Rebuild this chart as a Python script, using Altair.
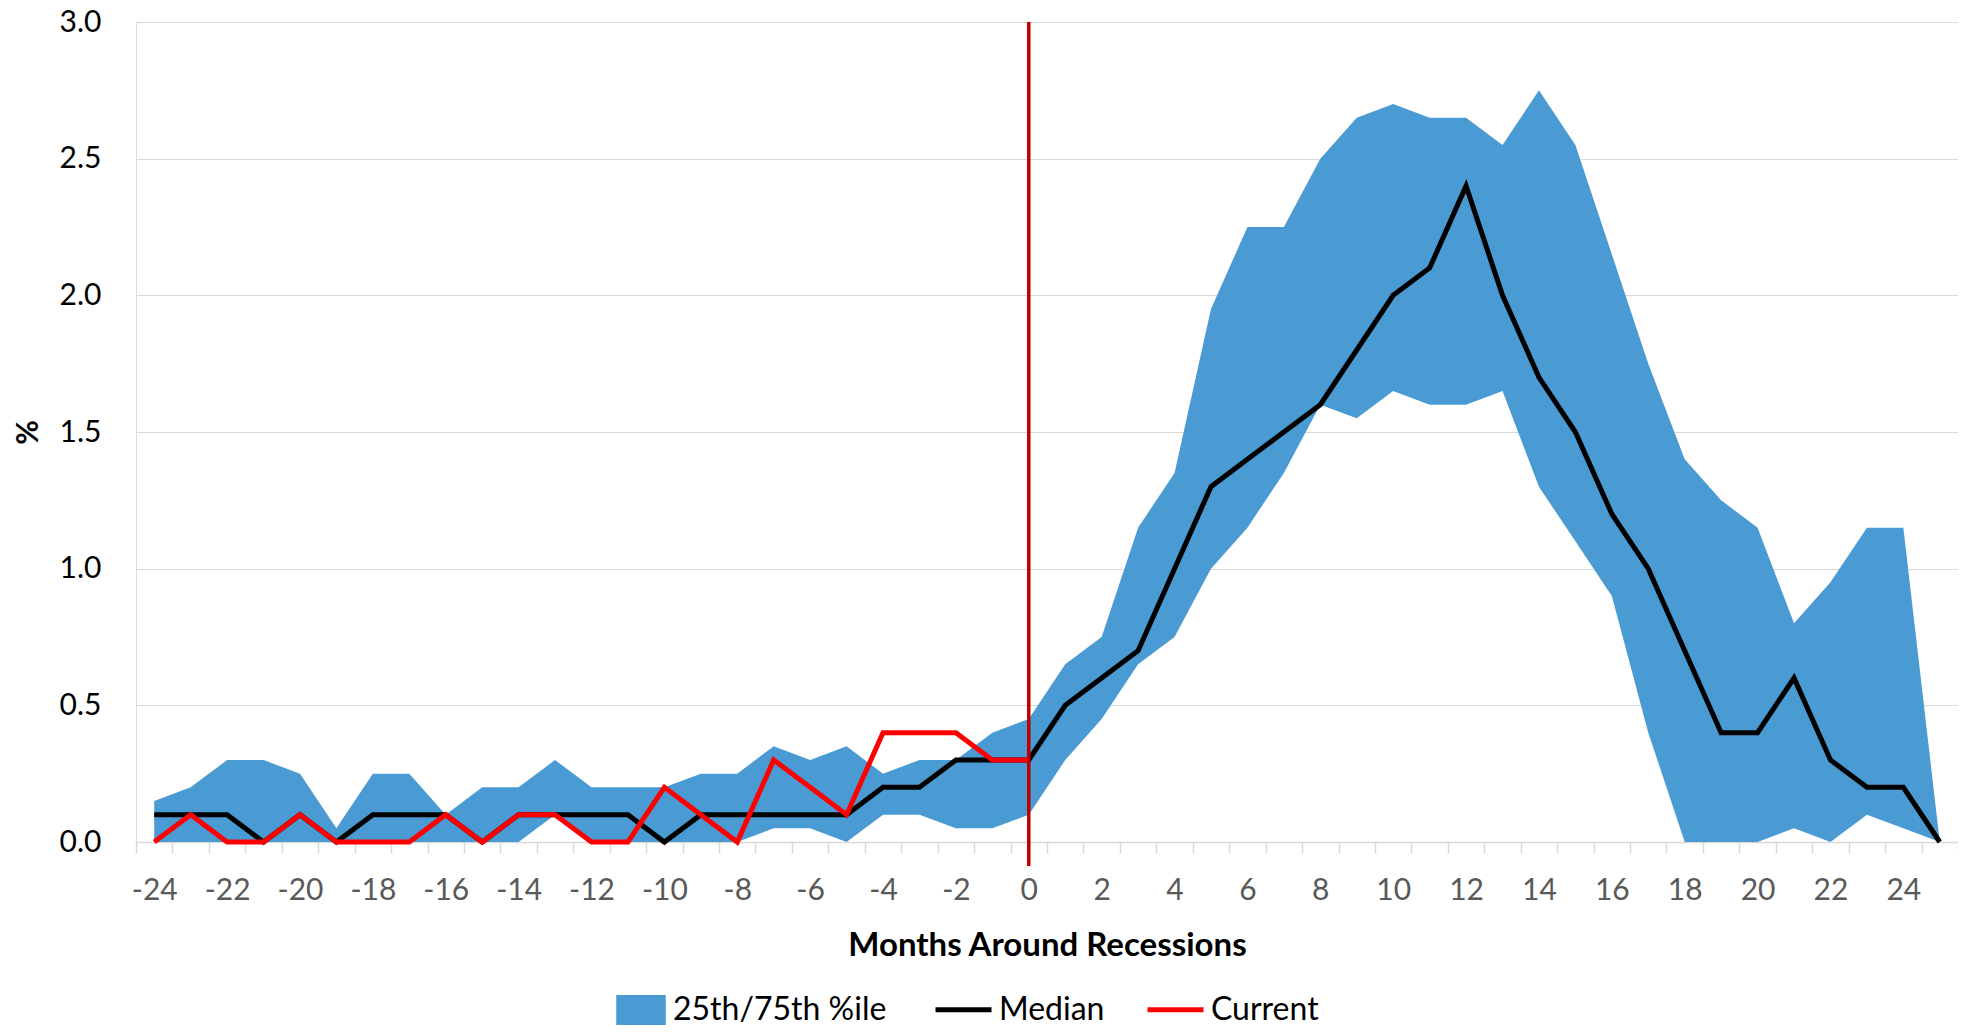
import altair as alt
import pandas as pd

# ---------------- data ----------------
months = list(range(-24, 26))
upper_75 = [0.15, 0.20, 0.30, 0.30, 0.25, 0.05, 0.25, 0.25, 0.10, 0.20,
            0.20, 0.30, 0.20, 0.20, 0.20, 0.25, 0.25, 0.35, 0.30, 0.35,
            0.25, 0.30, 0.30, 0.40, 0.45,
            0.65, 0.75, 1.15, 1.35, 1.95, 2.25, 2.25, 2.50, 2.65, 2.70,
            2.65, 2.65, 2.55, 2.75, 2.55, 2.15, 1.75, 1.40, 1.25, 1.15,
            0.80, 0.95, 1.15, 1.15, 0.00]
lower_25 = [0.00, 0.00, 0.00, 0.00, 0.00, 0.00, 0.00, 0.00, 0.00, 0.00,
            0.00, 0.10, 0.00, 0.00, 0.00, 0.00, 0.00, 0.05, 0.05, 0.00,
            0.10, 0.10, 0.05, 0.05, 0.10,
            0.30, 0.45, 0.65, 0.75, 1.00, 1.15, 1.35, 1.60, 1.55, 1.65,
            1.60, 1.60, 1.65, 1.30, 1.10, 0.90, 0.40, 0.00, 0.00, 0.00,
            0.05, 0.00, 0.10, 0.05, 0.00]
median = [0.1, 0.1, 0.1, 0.0, 0.1, 0.0, 0.1, 0.1, 0.1, 0.0,
          0.1, 0.1, 0.1, 0.1, 0.0, 0.1, 0.1, 0.1, 0.1, 0.1,
          0.2, 0.2, 0.3, 0.3, 0.3,
          0.5, 0.6, 0.7, 1.0, 1.3, 1.4, 1.5, 1.6, 1.8, 2.0,
          2.1, 2.4, 2.0, 1.7, 1.5, 1.2, 1.0, 0.7, 0.4, 0.4,
          0.6, 0.3, 0.2, 0.2, 0.0]
current_months = list(range(-24, 1))
current = [0.0, 0.1, 0.0, 0.0, 0.1, 0.0, 0.0, 0.0, 0.1, 0.0,
           0.1, 0.1, 0.0, 0.0, 0.2, 0.1, 0.0, 0.3, 0.2, 0.1,
           0.4, 0.4, 0.4, 0.3, 0.3]
band_label = "25th/75th %ile"
series_names = ["Median", "Current"]
y_ticks = [0.0, 0.5, 1.0, 1.5, 2.0, 2.5, 3.0]
x_label_months = list(range(-24, 25, 2))
recession_month = [0]

band_df = pd.DataFrame({"month": months, "lower": lower_25, "upper": upper_75,
                        "band": [band_label] * len(months)})
median_df = pd.DataFrame({"month": months, "value": median,
                          "series": ["Median"] * len(months)})
current_df = pd.DataFrame({"month": current_months, "value": current,
                           "series": ["Current"] * len(current_months)})
rule_df = pd.DataFrame({"month": recession_month})

# ---------------- style ----------------
W, H = 1822, 820
FONT = "Lato"
LEG_SIZE = 32
BLUE = "#4A9AD3"
GRID = "#D9D9D9"

x_bounds = [m - 0.5 for m in months] + [months[-1] + 0.5]
x_values = sorted(set(x_bounds + [float(v) for v in x_label_months]))

x_scale = alt.Scale(domain=[months[0] - 0.5, months[-1] + 0.5], nice=False, zero=False)
y_scale = alt.Scale(domain=[y_ticks[0], y_ticks[-1]], nice=False, zero=True)

x_axis = alt.Axis(
    values=x_values,
    labelExpr="datum.value % 2 == 0 ? '' + datum.value : ''",
    title="Months Around Recessions",
    grid=False,
    domainColor=GRID, domainWidth=1.5,
    tickColor=GRID, tickWidth=1.5, tickSize=11,
    tickOpacity={"condition": {"test": "datum.value % 1 != 0", "value": 1}, "value": 0},
    labelFont=FONT, labelFontSize=30, labelColor="#595959", labelPadding=22,
    labelOverlap=False, labelFlush=False, labelBound=False,
    titleFont=FONT, titleFontSize=33, titleFontWeight="bold", titleColor="black",
    titlePadding=24,
)
y_axis = alt.Axis(
    values=y_ticks, format=".1f", title="%",
    domain=False, ticks=False, grid=True, gridColor=GRID, gridWidth=1.2,
    labelFont=FONT, labelFontSize=30, labelColor="black", labelPadding=35,
    titleFont=FONT, titleFontSize=30, titleFontWeight="bold", titleColor="black",
    titlePadding=16,
)

band = alt.Chart(band_df).mark_area(opacity=1, interpolate="linear").encode(
    x=alt.X("month:Q", scale=x_scale, axis=x_axis),
    y=alt.Y("lower:Q", scale=y_scale, axis=y_axis),
    y2="upper:Q",
    fill=alt.Fill("band:N", scale=alt.Scale(domain=[band_label], range=[BLUE]),
                  legend=alt.Legend(title=None, orient="none", legendX=489, legendY=972,
                                    symbolType="M-1.65,-1H1.65V1H-1.65Z", symbolSize=900,
                                    symbolOpacity=1, symbolStrokeWidth=0,
                                    labelFont=FONT, labelFontSize=LEG_SIZE, labelColor="black",
                                    labelOffset=16, padding=0, labelLimit=500)),
)

stroke_scale = alt.Scale(domain=series_names, range=["#000000", "#FF0000"])
stroke_legend = alt.Legend(title=None, orient="none", legendX=797, legendY=957,
                           direction="horizontal", symbolType="stroke", symbolSize=3136,
                           symbolStrokeWidth=5, labelFont=FONT, labelFontSize=LEG_SIZE,
                           labelColor="black", labelOffset=5, columnPadding=32,
                           padding=0, labelLimit=500)

median_line = alt.Chart(median_df).mark_line(strokeWidth=5).encode(
    x=alt.X("month:Q", scale=x_scale, axis=x_axis),
    y=alt.Y("value:Q", scale=y_scale, axis=y_axis),
    stroke=alt.Stroke("series:N", scale=stroke_scale, legend=stroke_legend),
)
current_line = alt.Chart(current_df).mark_line(strokeWidth=5).encode(
    x=alt.X("month:Q", scale=x_scale, axis=x_axis),
    y=alt.Y("value:Q", scale=y_scale, axis=y_axis),
    stroke=alt.Stroke("series:N", scale=stroke_scale, legend=stroke_legend),
)
rule = alt.Chart(rule_df).mark_rule(color="#C00000", strokeWidth=3.5).encode(
    x=alt.X("month:Q", scale=x_scale, axis=x_axis),
    y=alt.value(0),
    y2=alt.value(H + 24),
)

chart = alt.layer(band, median_line, current_line, rule).properties(
    width=W, height=H,
    autosize=alt.AutoSizeParams(type="none"),
    padding={"left": 128, "top": 14, "right": 0, "bottom": 185},
).configure_view(stroke=None).configure(font=FONT)

chart.save("out.html", embed_options={"renderer": "svg", "actions": False})
